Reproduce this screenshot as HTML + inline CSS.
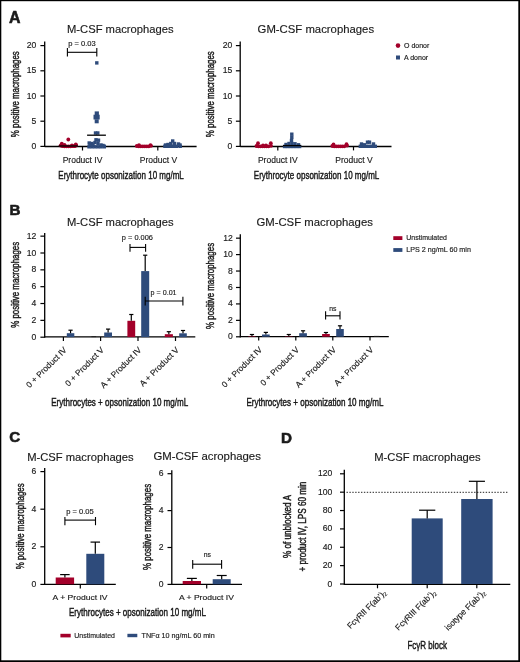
<!DOCTYPE html>
<html><head><meta charset="utf-8"><style>
html,body{margin:0;padding:0;background:#fff;}
svg{display:block;will-change:transform;}
text{font-family:"Liberation Sans", sans-serif;fill:#1a1a1a;stroke:#1a1a1a;stroke-width:0.15px;}
.cd{stroke-width:0.45px;}
.pl{stroke-width:0.6px;stroke-linejoin:round;}
</style></head><body>
<svg width="520" height="662" viewBox="0 0 520 662">
<rect width="520" height="662" fill="#fff"/>
<rect x="0" y="0" width="520" height="1.2" fill="#000"/>
<rect x="0" y="0" width="1.3" height="662" fill="#000"/>
<rect x="518.3" y="0" width="1.7" height="662" fill="#000"/>
<rect x="0" y="660.3" width="520" height="1.7" fill="#000"/>
<text x="9.1" y="22.7" font-size="15.9" font-weight="bold" class="pl">A</text>
<text x="9.5" y="215.2" font-size="15.2" font-weight="bold" class="pl">B</text>
<text x="9.3" y="442.3" font-size="15.2" font-weight="bold" class="pl">C</text>
<text x="281.1" y="442.8" font-size="15.2" font-weight="bold" class="pl">D</text>
<text x="67.0" y="32.5" font-size="11.5" textLength="106.5" lengthAdjust="spacingAndGlyphs">M-CSF macrophages</text>
<line x1="44.7" y1="41.5" x2="44.7" y2="147.0" stroke="#000" stroke-width="1.3"/>
<line x1="40.4" y1="146.4" x2="44.7" y2="146.4" stroke="#000" stroke-width="1.2"/>
<text x="36.4" y="148.95" font-size="8.6" text-anchor="end">0</text>
<line x1="40.4" y1="121.2" x2="44.7" y2="121.2" stroke="#000" stroke-width="1.2"/>
<text x="36.4" y="123.75" font-size="8.6" text-anchor="end">5</text>
<line x1="40.4" y1="96.0" x2="44.7" y2="96.0" stroke="#000" stroke-width="1.2"/>
<text x="36.4" y="98.55" font-size="8.6" text-anchor="end">10</text>
<line x1="40.4" y1="70.8" x2="44.7" y2="70.8" stroke="#000" stroke-width="1.2"/>
<text x="36.4" y="73.35" font-size="8.6" text-anchor="end">15</text>
<line x1="40.4" y1="45.6" x2="44.7" y2="45.6" stroke="#000" stroke-width="1.2"/>
<text x="36.4" y="48.15" font-size="8.6" text-anchor="end">20</text>
<text x="257.6" y="32.5" font-size="11.5" textLength="116.5" lengthAdjust="spacingAndGlyphs">GM-CSF macrophages</text>
<line x1="240.2" y1="41.5" x2="240.2" y2="147.0" stroke="#000" stroke-width="1.3"/>
<line x1="235.9" y1="146.4" x2="240.2" y2="146.4" stroke="#000" stroke-width="1.2"/>
<text x="232.2" y="148.95" font-size="8.6" text-anchor="end">0</text>
<line x1="235.9" y1="121.2" x2="240.2" y2="121.2" stroke="#000" stroke-width="1.2"/>
<text x="232.2" y="123.75" font-size="8.6" text-anchor="end">5</text>
<line x1="235.9" y1="96.0" x2="240.2" y2="96.0" stroke="#000" stroke-width="1.2"/>
<text x="232.2" y="98.55" font-size="8.6" text-anchor="end">10</text>
<line x1="235.9" y1="70.8" x2="240.2" y2="70.8" stroke="#000" stroke-width="1.2"/>
<text x="232.2" y="73.35" font-size="8.6" text-anchor="end">15</text>
<line x1="235.9" y1="45.6" x2="240.2" y2="45.6" stroke="#000" stroke-width="1.2"/>
<text x="232.2" y="48.15" font-size="8.6" text-anchor="end">20</text>
<line x1="44.7" y1="146.5" x2="196.6" y2="146.5" stroke="#000" stroke-width="1.3"/>
<line x1="82.5" y1="146.4" x2="82.5" y2="150.5" stroke="#000" stroke-width="1.2"/>
<line x1="157.8" y1="146.4" x2="157.8" y2="150.5" stroke="#000" stroke-width="1.2"/>
<text x="82.5" y="162.5" font-size="8.5" text-anchor="middle">Product IV</text>
<text x="158.4" y="162.5" font-size="8.5" text-anchor="middle">Product V</text>
<text x="58.3" y="178.6" font-size="11.5" textLength="125.5" lengthAdjust="spacingAndGlyphs" class="cd">Erythrocyte opsonization 10 mg/mL</text>
<text x="18.9" y="94.2" font-size="11.4" text-anchor="middle" textLength="86" lengthAdjust="spacingAndGlyphs" transform="rotate(-90 18.9 94.2)" class="cd">% positive macrophages</text>
<line x1="240.2" y1="146.5" x2="391.5" y2="146.5" stroke="#000" stroke-width="1.3"/>
<line x1="277.8" y1="146.3" x2="277.8" y2="150.4" stroke="#000" stroke-width="1.2"/>
<line x1="353.5" y1="146.3" x2="353.5" y2="150.4" stroke="#000" stroke-width="1.2"/>
<text x="277.8" y="162.5" font-size="8.5" text-anchor="middle">Product IV</text>
<text x="354.0" y="162.5" font-size="8.5" text-anchor="middle">Product V</text>
<text x="253.8" y="178.6" font-size="11.5" textLength="125.5" lengthAdjust="spacingAndGlyphs" class="cd">Erythrocyte opsonization 10 mg/mL</text>
<text x="214.4" y="94.2" font-size="11.4" text-anchor="middle" textLength="86" lengthAdjust="spacingAndGlyphs" transform="rotate(-90 214.4 94.2)" class="cd">% positive macrophages</text>
<circle cx="60.6" cy="145.6" r="1.9" fill="#a3002a"/>
<circle cx="62.6" cy="146.2" r="1.9" fill="#a3002a"/>
<circle cx="64.6" cy="146.3" r="1.9" fill="#a3002a"/>
<circle cx="66.6" cy="146.3" r="1.9" fill="#a3002a"/>
<circle cx="68.6" cy="146.3" r="1.9" fill="#a3002a"/>
<circle cx="70.6" cy="146.3" r="1.9" fill="#a3002a"/>
<circle cx="72.6" cy="146.2" r="1.9" fill="#a3002a"/>
<circle cx="74.6" cy="146.2" r="1.9" fill="#a3002a"/>
<circle cx="76.0" cy="145.5" r="1.9" fill="#a3002a"/>
<circle cx="61.8" cy="143.6" r="1.9" fill="#a3002a"/>
<circle cx="75.8" cy="144.3" r="1.9" fill="#a3002a"/>
<circle cx="64.5" cy="145.0" r="1.9" fill="#a3002a"/>
<circle cx="72" cy="145.3" r="1.9" fill="#a3002a"/>
<circle cx="68.3" cy="139.5" r="1.9" fill="#a3002a"/>
<line x1="58.8" y1="146.0" x2="77.8" y2="146.0" stroke="#000" stroke-width="1.3"/>
<rect x="95.10" y="61.20" width="3.4" height="3.4" fill="#2e4b7b"/>
<rect x="93.80" y="131.30" width="3.4" height="3.4" fill="#2e4b7b"/>
<rect x="96.10" y="131.30" width="3.4" height="3.4" fill="#2e4b7b"/>
<rect x="94.30" y="138.10" width="3.4" height="3.4" fill="#2e4b7b"/>
<rect x="96.80" y="138.50" width="3.4" height="3.4" fill="#2e4b7b"/>
<rect x="87.50" y="141.30" width="3.4" height="3.4" fill="#2e4b7b"/>
<rect x="90.30" y="141.80" width="3.4" height="3.4" fill="#2e4b7b"/>
<rect x="93.30" y="140.80" width="3.4" height="3.4" fill="#2e4b7b"/>
<rect x="96.30" y="141.80" width="3.4" height="3.4" fill="#2e4b7b"/>
<rect x="99.30" y="143.30" width="3.4" height="3.4" fill="#2e4b7b"/>
<rect x="102.50" y="144.50" width="3.4" height="3.4" fill="#2e4b7b"/>
<rect x="87.30" y="145.10" width="3.4" height="3.4" fill="#2e4b7b"/>
<rect x="90.30" y="145.10" width="3.4" height="3.4" fill="#2e4b7b"/>
<rect x="93.30" y="145.10" width="3.4" height="3.4" fill="#2e4b7b"/>
<rect x="96.30" y="145.10" width="3.4" height="3.4" fill="#2e4b7b"/>
<rect x="99.30" y="145.10" width="3.4" height="3.4" fill="#2e4b7b"/>
<rect x="102.60" y="145.10" width="3.4" height="3.4" fill="#2e4b7b"/>
<rect x="91.30" y="143.30" width="3.4" height="3.4" fill="#2e4b7b"/>
<rect x="88.30" y="143.30" width="3.4" height="3.4" fill="#2e4b7b"/>
<rect x="101.30" y="143.80" width="3.4" height="3.4" fill="#2e4b7b"/>
<line x1="87.1" y1="135.2" x2="105.9" y2="135.2" stroke="#000" stroke-width="1.3"/>
<rect x="94.7" y="111.4" width="4.2" height="3.6" fill="#2e4b7b"/>
<rect x="93.5" y="114.7" width="6.2" height="4.8" fill="#2e4b7b"/>
<rect x="94.7" y="119.3" width="4.0" height="4.0" fill="#2e4b7b"/>
<circle cx="136.8" cy="146.0" r="1.9" fill="#a3002a"/>
<circle cx="138.8" cy="146.3" r="1.9" fill="#a3002a"/>
<circle cx="140.8" cy="146.3" r="1.9" fill="#a3002a"/>
<circle cx="142.8" cy="146.3" r="1.9" fill="#a3002a"/>
<circle cx="144.8" cy="146.3" r="1.9" fill="#a3002a"/>
<circle cx="146.8" cy="146.3" r="1.9" fill="#a3002a"/>
<circle cx="148.8" cy="146.3" r="1.9" fill="#a3002a"/>
<circle cx="151.0" cy="145.8" r="1.9" fill="#a3002a"/>
<circle cx="139" cy="145.2" r="1.9" fill="#a3002a"/>
<circle cx="150.5" cy="145.2" r="1.9" fill="#a3002a"/>
<rect x="163.20" y="144.60" width="3.4" height="3.4" fill="#2e4b7b"/>
<rect x="165.80" y="144.60" width="3.4" height="3.4" fill="#2e4b7b"/>
<rect x="168.80" y="144.60" width="3.4" height="3.4" fill="#2e4b7b"/>
<rect x="171.80" y="144.60" width="3.4" height="3.4" fill="#2e4b7b"/>
<rect x="174.80" y="144.60" width="3.4" height="3.4" fill="#2e4b7b"/>
<rect x="178.50" y="144.60" width="3.4" height="3.4" fill="#2e4b7b"/>
<rect x="171.00" y="139.30" width="3.4" height="3.4" fill="#2e4b7b"/>
<rect x="169.10" y="141.80" width="3.4" height="3.4" fill="#2e4b7b"/>
<rect x="172.80" y="141.80" width="3.4" height="3.4" fill="#2e4b7b"/>
<rect x="166.30" y="142.80" width="3.4" height="3.4" fill="#2e4b7b"/>
<rect x="176.80" y="142.30" width="3.4" height="3.4" fill="#2e4b7b"/>
<rect x="163.80" y="143.30" width="3.4" height="3.4" fill="#2e4b7b"/>
<rect x="178.30" y="143.30" width="3.4" height="3.4" fill="#2e4b7b"/>
<circle cx="256.5" cy="146.0" r="1.9" fill="#a3002a"/>
<circle cx="258.5" cy="146.3" r="1.9" fill="#a3002a"/>
<circle cx="260.5" cy="146.3" r="1.9" fill="#a3002a"/>
<circle cx="262.5" cy="146.3" r="1.9" fill="#a3002a"/>
<circle cx="264.5" cy="146.3" r="1.9" fill="#a3002a"/>
<circle cx="266.5" cy="146.3" r="1.9" fill="#a3002a"/>
<circle cx="268.5" cy="146.3" r="1.9" fill="#a3002a"/>
<circle cx="271.0" cy="145.8" r="1.9" fill="#a3002a"/>
<circle cx="258.0" cy="143.2" r="1.9" fill="#a3002a"/>
<circle cx="270.8" cy="143.2" r="1.9" fill="#a3002a"/>
<circle cx="263" cy="145.3" r="1.9" fill="#a3002a"/>
<circle cx="266" cy="145.5" r="1.9" fill="#a3002a"/>
<rect x="282.90" y="144.80" width="3.4" height="3.4" fill="#2e4b7b"/>
<rect x="285.80" y="144.80" width="3.4" height="3.4" fill="#2e4b7b"/>
<rect x="288.80" y="144.80" width="3.4" height="3.4" fill="#2e4b7b"/>
<rect x="291.80" y="144.80" width="3.4" height="3.4" fill="#2e4b7b"/>
<rect x="294.80" y="144.80" width="3.4" height="3.4" fill="#2e4b7b"/>
<rect x="297.90" y="144.80" width="3.4" height="3.4" fill="#2e4b7b"/>
<rect x="290.10" y="132.50" width="3.4" height="3.4" fill="#2e4b7b"/>
<rect x="290.10" y="135.70" width="3.4" height="3.4" fill="#2e4b7b"/>
<rect x="289.80" y="138.80" width="3.4" height="3.4" fill="#2e4b7b"/>
<rect x="287.30" y="141.80" width="3.4" height="3.4" fill="#2e4b7b"/>
<rect x="290.30" y="141.90" width="3.4" height="3.4" fill="#2e4b7b"/>
<rect x="293.30" y="142.10" width="3.4" height="3.4" fill="#2e4b7b"/>
<rect x="284.30" y="142.80" width="3.4" height="3.4" fill="#2e4b7b"/>
<rect x="296.80" y="143.10" width="3.4" height="3.4" fill="#2e4b7b"/>
<line x1="283.0" y1="145.6" x2="301.2" y2="145.6" stroke="#000" stroke-width="1.3"/>
<circle cx="332.3" cy="146.0" r="1.9" fill="#a3002a"/>
<circle cx="334.3" cy="146.3" r="1.9" fill="#a3002a"/>
<circle cx="336.3" cy="146.3" r="1.9" fill="#a3002a"/>
<circle cx="338.3" cy="146.3" r="1.9" fill="#a3002a"/>
<circle cx="340.3" cy="146.3" r="1.9" fill="#a3002a"/>
<circle cx="342.3" cy="146.3" r="1.9" fill="#a3002a"/>
<circle cx="344.3" cy="146.3" r="1.9" fill="#a3002a"/>
<circle cx="347.0" cy="145.6" r="1.9" fill="#a3002a"/>
<circle cx="333.5" cy="144.5" r="1.9" fill="#a3002a"/>
<circle cx="346.5" cy="144.2" r="1.9" fill="#a3002a"/>
<rect x="358.60" y="144.60" width="3.4" height="3.4" fill="#2e4b7b"/>
<rect x="361.60" y="144.60" width="3.4" height="3.4" fill="#2e4b7b"/>
<rect x="364.60" y="144.60" width="3.4" height="3.4" fill="#2e4b7b"/>
<rect x="367.60" y="144.60" width="3.4" height="3.4" fill="#2e4b7b"/>
<rect x="370.60" y="144.60" width="3.4" height="3.4" fill="#2e4b7b"/>
<rect x="373.60" y="144.60" width="3.4" height="3.4" fill="#2e4b7b"/>
<rect x="359.80" y="142.30" width="3.4" height="3.4" fill="#2e4b7b"/>
<rect x="365.80" y="140.50" width="3.4" height="3.4" fill="#2e4b7b"/>
<rect x="367.80" y="140.50" width="3.4" height="3.4" fill="#2e4b7b"/>
<rect x="371.80" y="142.30" width="3.4" height="3.4" fill="#2e4b7b"/>
<rect x="362.80" y="143.10" width="3.4" height="3.4" fill="#2e4b7b"/>
<circle cx="398.0" cy="45.6" r="2.3" fill="#a3002a"/>
<rect x="396.00" y="55.50" width="4.0" height="4.0" fill="#2e4b7b"/>
<text x="404.0" y="47.8" font-size="7.0">O donor</text>
<text x="404.0" y="59.9" font-size="7.0">A donor</text>
<line x1="67.4" y1="52.3" x2="96.8" y2="52.3" stroke="#000" stroke-width="1.1"/>
<line x1="67.4" y1="48.0" x2="67.4" y2="56.6" stroke="#000" stroke-width="1.1"/>
<line x1="96.8" y1="48.0" x2="96.8" y2="56.6" stroke="#000" stroke-width="1.1"/>
<text x="82.0" y="45.8" font-size="7.2" text-anchor="middle" textLength="27.5" lengthAdjust="spacingAndGlyphs">p = 0.03</text>
<text x="67.0" y="225.5" font-size="11.5" textLength="106.5" lengthAdjust="spacingAndGlyphs">M-CSF macrophages</text>
<text x="256.4" y="225.9" font-size="11.5" textLength="116.5" lengthAdjust="spacingAndGlyphs">GM-CSF macrophages</text>
<line x1="44.7" y1="233.0" x2="44.7" y2="337.8" stroke="#000" stroke-width="1.3"/>
<line x1="40.4" y1="337.2" x2="44.7" y2="337.2" stroke="#000" stroke-width="1.2"/>
<text x="36.4" y="339.75" font-size="8.6" text-anchor="end">0</text>
<line x1="40.4" y1="320.36" x2="44.7" y2="320.36" stroke="#000" stroke-width="1.2"/>
<text x="36.4" y="322.91" font-size="8.6" text-anchor="end">2</text>
<line x1="40.4" y1="303.52" x2="44.7" y2="303.52" stroke="#000" stroke-width="1.2"/>
<text x="36.4" y="306.07" font-size="8.6" text-anchor="end">4</text>
<line x1="40.4" y1="286.68" x2="44.7" y2="286.68" stroke="#000" stroke-width="1.2"/>
<text x="36.4" y="289.23" font-size="8.6" text-anchor="end">6</text>
<line x1="40.4" y1="269.84" x2="44.7" y2="269.84" stroke="#000" stroke-width="1.2"/>
<text x="36.4" y="272.39" font-size="8.6" text-anchor="end">8</text>
<line x1="40.4" y1="253.0" x2="44.7" y2="253.0" stroke="#000" stroke-width="1.2"/>
<text x="36.4" y="255.55" font-size="8.6" text-anchor="end">10</text>
<line x1="40.4" y1="236.16" x2="44.7" y2="236.16" stroke="#000" stroke-width="1.2"/>
<text x="36.4" y="238.71" font-size="8.6" text-anchor="end">12</text>
<line x1="240.3" y1="234.3" x2="240.3" y2="337.4" stroke="#000" stroke-width="1.3"/>
<line x1="236.0" y1="336.8" x2="240.3" y2="336.8" stroke="#000" stroke-width="1.2"/>
<text x="232.8" y="339.35" font-size="8.6" text-anchor="end">0</text>
<line x1="236.0" y1="320.36" x2="240.3" y2="320.36" stroke="#000" stroke-width="1.2"/>
<text x="232.8" y="322.91" font-size="8.6" text-anchor="end">2</text>
<line x1="236.0" y1="303.92" x2="240.3" y2="303.92" stroke="#000" stroke-width="1.2"/>
<text x="232.8" y="306.47" font-size="8.6" text-anchor="end">4</text>
<line x1="236.0" y1="287.48" x2="240.3" y2="287.48" stroke="#000" stroke-width="1.2"/>
<text x="232.8" y="290.03" font-size="8.6" text-anchor="end">6</text>
<line x1="236.0" y1="271.04" x2="240.3" y2="271.04" stroke="#000" stroke-width="1.2"/>
<text x="232.8" y="273.59" font-size="8.6" text-anchor="end">8</text>
<line x1="236.0" y1="254.6" x2="240.3" y2="254.6" stroke="#000" stroke-width="1.2"/>
<text x="232.8" y="257.15" font-size="8.6" text-anchor="end">10</text>
<line x1="236.0" y1="238.16" x2="240.3" y2="238.16" stroke="#000" stroke-width="1.2"/>
<text x="232.8" y="240.71" font-size="8.6" text-anchor="end">12</text>
<text x="18.9" y="284.8" font-size="11.4" text-anchor="middle" textLength="86" lengthAdjust="spacingAndGlyphs" transform="rotate(-90 18.9 284.8)" class="cd">% positive macrophages</text>
<text x="214.4" y="285.9" font-size="11.4" text-anchor="middle" textLength="86" lengthAdjust="spacingAndGlyphs" transform="rotate(-90 214.4 285.9)" class="cd">% positive macrophages</text>
<line x1="44.7" y1="336.95" x2="195.3" y2="336.95" stroke="#000" stroke-width="1.3"/>
<line x1="240.3" y1="336.7" x2="388.8" y2="336.7" stroke="#000" stroke-width="1.3"/>
<line x1="63.4" y1="337.1" x2="63.4" y2="341.0" stroke="#000" stroke-width="1.2"/>
<text x="67.3" y="350.6" font-size="8.4" text-anchor="end" transform="rotate(-45 67.3 350.6)">0 + Product IV</text>
<line x1="100.6" y1="337.1" x2="100.6" y2="341.0" stroke="#000" stroke-width="1.2"/>
<text x="104.5" y="350.6" font-size="8.4" text-anchor="end" transform="rotate(-45 104.5 350.6)">0 + Product V</text>
<line x1="138.0" y1="337.1" x2="138.0" y2="341.0" stroke="#000" stroke-width="1.2"/>
<text x="141.9" y="350.6" font-size="8.4" text-anchor="end" transform="rotate(-45 141.9 350.6)">A + Product IV</text>
<line x1="175.5" y1="337.1" x2="175.5" y2="341.0" stroke="#000" stroke-width="1.2"/>
<text x="179.4" y="350.6" font-size="8.4" text-anchor="end" transform="rotate(-45 179.4 350.6)">A + Product V</text>
<line x1="258.7" y1="336.7" x2="258.7" y2="340.6" stroke="#000" stroke-width="1.2"/>
<text x="262.6" y="350.2" font-size="8.4" text-anchor="end" transform="rotate(-45 262.6 350.2)">0 + Product IV</text>
<line x1="295.8" y1="336.7" x2="295.8" y2="340.6" stroke="#000" stroke-width="1.2"/>
<text x="299.7" y="350.2" font-size="8.4" text-anchor="end" transform="rotate(-45 299.7 350.2)">0 + Product V</text>
<line x1="332.8" y1="336.7" x2="332.8" y2="340.6" stroke="#000" stroke-width="1.2"/>
<text x="336.7" y="350.2" font-size="8.4" text-anchor="end" transform="rotate(-45 336.7 350.2)">A + Product IV</text>
<line x1="370.0" y1="336.7" x2="370.0" y2="340.6" stroke="#000" stroke-width="1.2"/>
<text x="373.9" y="350.2" font-size="8.4" text-anchor="end" transform="rotate(-45 373.9 350.2)">A + Product V</text>
<rect x="66.8" y="333.2" width="7.5" height="3.9" fill="#2e4b7b"/>
<line x1="70.55" y1="330.2" x2="70.55" y2="333.2" stroke="#000" stroke-width="1.2"/>
<line x1="68.45" y1="330.2" x2="72.65" y2="330.2" stroke="#000" stroke-width="1.2"/>
<rect x="91.4" y="336.1" width="4.7" height="1.0" fill="#222"/>
<rect x="104.2" y="332.5" width="7.8" height="4.6" fill="#2e4b7b"/>
<line x1="108.1" y1="329.1" x2="108.1" y2="332.5" stroke="#000" stroke-width="1.2"/>
<line x1="106.0" y1="329.1" x2="110.2" y2="329.1" stroke="#000" stroke-width="1.2"/>
<rect x="127.4" y="320.8" width="7.8" height="16.3" fill="#a3002a"/>
<line x1="131.3" y1="314.5" x2="131.3" y2="320.8" stroke="#000" stroke-width="1.2"/>
<line x1="129.2" y1="314.5" x2="133.4" y2="314.5" stroke="#000" stroke-width="1.2"/>
<rect x="141.2" y="271.1" width="8.0" height="66.0" fill="#2e4b7b"/>
<line x1="145.2" y1="255.2" x2="145.2" y2="271.1" stroke="#000" stroke-width="1.2"/>
<line x1="143.1" y1="255.2" x2="147.3" y2="255.2" stroke="#000" stroke-width="1.2"/>
<rect x="164.8" y="334.2" width="8.1" height="2.9" fill="#a3002a"/>
<line x1="168.85" y1="331.7" x2="168.85" y2="334.2" stroke="#000" stroke-width="1.2"/>
<line x1="166.75" y1="331.7" x2="170.95" y2="331.7" stroke="#000" stroke-width="1.2"/>
<rect x="179.2" y="333.3" width="7.6" height="3.8" fill="#2e4b7b"/>
<line x1="183.0" y1="330.5" x2="183.0" y2="333.3" stroke="#000" stroke-width="1.2"/>
<line x1="180.9" y1="330.5" x2="185.1" y2="330.5" stroke="#000" stroke-width="1.2"/>
<line x1="130.0" y1="247.4" x2="145.6" y2="247.4" stroke="#000" stroke-width="1.1"/>
<line x1="130.0" y1="243.9" x2="130.0" y2="251.7" stroke="#000" stroke-width="1.1"/>
<line x1="145.6" y1="243.9" x2="145.6" y2="251.7" stroke="#000" stroke-width="1.1"/>
<text x="137.4" y="239.6" font-size="7.2" text-anchor="middle" textLength="31.2" lengthAdjust="spacingAndGlyphs">p = 0.006</text>
<line x1="145.2" y1="301.0" x2="182.9" y2="301.0" stroke="#000" stroke-width="1.1"/>
<line x1="145.2" y1="296.7" x2="145.2" y2="305.4" stroke="#000" stroke-width="1.1"/>
<line x1="182.9" y1="296.7" x2="182.9" y2="305.4" stroke="#000" stroke-width="1.1"/>
<text x="163.6" y="294.9" font-size="7.2" text-anchor="middle" textLength="26.0" lengthAdjust="spacingAndGlyphs">p = 0.01</text>
<text x="51.2" y="405.6" font-size="11.2" textLength="137" lengthAdjust="spacingAndGlyphs" class="cd">Erythrocytes + opsonization 10 mg/mL</text>
<rect x="248.4" y="336.2" width="7.1" height="0.5" fill="#a3002a"/>
<line x1="251.95" y1="334.5" x2="251.95" y2="336.2" stroke="#000" stroke-width="1.2"/>
<line x1="249.85" y1="334.5" x2="254.05" y2="334.5" stroke="#000" stroke-width="1.2"/>
<rect x="262.0" y="334.5" width="7.7" height="2.2" fill="#2e4b7b"/>
<line x1="265.85" y1="332.4" x2="265.85" y2="334.5" stroke="#000" stroke-width="1.2"/>
<line x1="263.75" y1="332.4" x2="267.95" y2="332.4" stroke="#000" stroke-width="1.2"/>
<rect x="285.0" y="336.3" width="7.6" height="0.4" fill="#a3002a"/>
<line x1="288.8" y1="334.5" x2="288.8" y2="336.3" stroke="#000" stroke-width="1.2"/>
<line x1="286.7" y1="334.5" x2="290.9" y2="334.5" stroke="#000" stroke-width="1.2"/>
<rect x="299.2" y="333.2" width="7.7" height="3.5" fill="#2e4b7b"/>
<line x1="303.05" y1="330.8" x2="303.05" y2="333.2" stroke="#000" stroke-width="1.2"/>
<line x1="300.95" y1="330.8" x2="305.15" y2="330.8" stroke="#000" stroke-width="1.2"/>
<rect x="322.1" y="334.0" width="7.7" height="2.7" fill="#a3002a"/>
<line x1="325.95" y1="332.5" x2="325.95" y2="334.0" stroke="#000" stroke-width="1.2"/>
<line x1="323.85" y1="332.5" x2="328.05" y2="332.5" stroke="#000" stroke-width="1.2"/>
<rect x="336.2" y="329.0" width="7.6" height="7.7" fill="#2e4b7b"/>
<line x1="340.0" y1="325.8" x2="340.0" y2="329.0" stroke="#000" stroke-width="1.2"/>
<line x1="337.9" y1="325.8" x2="342.1" y2="325.8" stroke="#000" stroke-width="1.2"/>
<rect x="374.0" y="335.9" width="5.5" height="0.8" fill="#222"/>
<line x1="325.6" y1="315.8" x2="340.0" y2="315.8" stroke="#000" stroke-width="1.1"/>
<line x1="325.6" y1="311.3" x2="325.6" y2="319.6" stroke="#000" stroke-width="1.1"/>
<line x1="340.0" y1="311.3" x2="340.0" y2="319.6" stroke="#000" stroke-width="1.1"/>
<text x="332.8" y="310.6" font-size="6.8" text-anchor="middle">ns</text>
<text x="246.4" y="405.6" font-size="11.2" textLength="137" lengthAdjust="spacingAndGlyphs" class="cd">Erythrocytes + opsonization 10 mg/mL</text>
<rect x="393.3" y="236.2" width="9.1" height="3.8" fill="#a3002a"/>
<rect x="393.3" y="248.1" width="9.1" height="3.8" fill="#2e4b7b"/>
<text x="406.3" y="240.1" font-size="7.0" textLength="40.6" lengthAdjust="spacingAndGlyphs">Unstimulated</text>
<text x="406.3" y="251.9" font-size="7.0" textLength="64.6" lengthAdjust="spacingAndGlyphs">LPS 2 ng/mL 60 min</text>
<text x="27.2" y="460.7" font-size="11.5" textLength="106.5" lengthAdjust="spacingAndGlyphs">M-CSF macrophages</text>
<text x="153.4" y="460.3" font-size="11.5" textLength="107.5" lengthAdjust="spacingAndGlyphs">GM-CSF acrophages</text>
<line x1="44.7" y1="468.1" x2="44.7" y2="584.9" stroke="#000" stroke-width="1.3"/>
<line x1="40.4" y1="584.4" x2="44.7" y2="584.4" stroke="#000" stroke-width="1.2"/>
<text x="36.4" y="586.95" font-size="8.6" text-anchor="end">0</text>
<line x1="40.4" y1="546.8" x2="44.7" y2="546.8" stroke="#000" stroke-width="1.2"/>
<text x="36.4" y="549.35" font-size="8.6" text-anchor="end">2</text>
<line x1="40.4" y1="509.2" x2="44.7" y2="509.2" stroke="#000" stroke-width="1.2"/>
<text x="36.4" y="511.75" font-size="8.6" text-anchor="end">4</text>
<line x1="40.4" y1="471.6" x2="44.7" y2="471.6" stroke="#000" stroke-width="1.2"/>
<text x="36.4" y="474.15" font-size="8.6" text-anchor="end">6</text>
<line x1="171.8" y1="470.2" x2="171.8" y2="584.9" stroke="#000" stroke-width="1.3"/>
<line x1="167.5" y1="584.4" x2="171.8" y2="584.4" stroke="#000" stroke-width="1.2"/>
<text x="163.6" y="586.95" font-size="8.6" text-anchor="end">0</text>
<line x1="167.5" y1="547.5" x2="171.8" y2="547.5" stroke="#000" stroke-width="1.2"/>
<text x="163.6" y="550.05" font-size="8.6" text-anchor="end">2</text>
<line x1="167.5" y1="510.6" x2="171.8" y2="510.6" stroke="#000" stroke-width="1.2"/>
<text x="163.6" y="513.15" font-size="8.6" text-anchor="end">4</text>
<line x1="167.5" y1="473.7" x2="171.8" y2="473.7" stroke="#000" stroke-width="1.2"/>
<text x="163.6" y="476.25" font-size="8.6" text-anchor="end">6</text>
<text x="23.9" y="526.3" font-size="11.4" text-anchor="middle" textLength="86" lengthAdjust="spacingAndGlyphs" transform="rotate(-90 23.9 526.3)" class="cd">% positive macrophages</text>
<text x="150.6" y="526.9" font-size="11.4" text-anchor="middle" textLength="86" lengthAdjust="spacingAndGlyphs" transform="rotate(-90 150.6 526.9)" class="cd">% positive macrophages</text>
<line x1="44.7" y1="584.3" x2="115.8" y2="584.3" stroke="#000" stroke-width="1.3"/>
<line x1="171.8" y1="584.3" x2="242.0" y2="584.3" stroke="#000" stroke-width="1.3"/>
<line x1="80.3" y1="584.3" x2="80.3" y2="588.5" stroke="#000" stroke-width="1.2"/>
<line x1="206.7" y1="584.3" x2="206.7" y2="588.5" stroke="#000" stroke-width="1.2"/>
<rect x="55.7" y="577.5" width="18.4" height="6.8" fill="#a3002a"/>
<line x1="64.9" y1="574.6" x2="64.9" y2="577.5" stroke="#000" stroke-width="1.2"/>
<line x1="60.15" y1="574.6" x2="69.65" y2="574.6" stroke="#000" stroke-width="1.2"/>
<rect x="86.3" y="553.8" width="18.0" height="30.5" fill="#2e4b7b"/>
<line x1="95.3" y1="542.1" x2="95.3" y2="553.8" stroke="#000" stroke-width="1.2"/>
<line x1="90.55" y1="542.1" x2="100.05" y2="542.1" stroke="#000" stroke-width="1.2"/>
<rect x="182.7" y="581.0" width="18.3" height="3.3" fill="#a3002a"/>
<line x1="191.85" y1="578.4" x2="191.85" y2="581.0" stroke="#000" stroke-width="1.2"/>
<line x1="186.85" y1="578.4" x2="196.85" y2="578.4" stroke="#000" stroke-width="1.2"/>
<rect x="212.7" y="579.2" width="18.0" height="5.1" fill="#2e4b7b"/>
<line x1="221.7" y1="575.5" x2="221.7" y2="579.2" stroke="#000" stroke-width="1.2"/>
<line x1="216.7" y1="575.5" x2="226.7" y2="575.5" stroke="#000" stroke-width="1.2"/>
<line x1="64.9" y1="520.1" x2="95.5" y2="520.1" stroke="#000" stroke-width="1.1"/>
<line x1="64.9" y1="517.0" x2="64.9" y2="525.2" stroke="#000" stroke-width="1.1"/>
<line x1="95.5" y1="517.0" x2="95.5" y2="525.2" stroke="#000" stroke-width="1.1"/>
<text x="80.0" y="514.1" font-size="7.2" text-anchor="middle" textLength="27.5" lengthAdjust="spacingAndGlyphs">p = 0.05</text>
<line x1="192.7" y1="564.2" x2="221.6" y2="564.2" stroke="#000" stroke-width="1.1"/>
<line x1="192.7" y1="559.9" x2="192.7" y2="568.8" stroke="#000" stroke-width="1.1"/>
<line x1="221.6" y1="559.9" x2="221.6" y2="568.8" stroke="#000" stroke-width="1.1"/>
<text x="207.3" y="557.1" font-size="6.8" text-anchor="middle">ns</text>
<text x="80.1" y="600.0" font-size="8.0" text-anchor="middle" textLength="55" lengthAdjust="spacingAndGlyphs">A + Product IV</text>
<text x="206.4" y="600.0" font-size="8.0" text-anchor="middle" textLength="55" lengthAdjust="spacingAndGlyphs">A + Product IV</text>
<text x="69.0" y="616.1" font-size="11.2" textLength="137" lengthAdjust="spacingAndGlyphs" class="cd">Erythrocytes + opsonization 10 mg/mL</text>
<rect x="60.4" y="633.8" width="10.3" height="3.6" fill="#a3002a"/>
<rect x="127.4" y="633.8" width="9.9" height="3.4" fill="#2e4b7b"/>
<text x="74.3" y="637.7" font-size="7.0" textLength="40.6" lengthAdjust="spacingAndGlyphs">Unstimulated</text>
<text x="141.5" y="637.7" font-size="7.0" textLength="73.2" lengthAdjust="spacingAndGlyphs">TNF&#945; 10 ng/mL 60 min</text>
<text x="374.2" y="461.2" font-size="11.5" textLength="106.5" lengthAdjust="spacingAndGlyphs">M-CSF macrophages</text>
<line x1="344.3" y1="469.7" x2="344.3" y2="585.0" stroke="#000" stroke-width="1.3"/>
<line x1="340.0" y1="584.0" x2="344.3" y2="584.0" stroke="#000" stroke-width="1.2"/>
<text x="332.3" y="586.55" font-size="8.6" text-anchor="end">0</text>
<line x1="340.0" y1="565.63" x2="344.3" y2="565.63" stroke="#000" stroke-width="1.2"/>
<text x="332.3" y="568.18" font-size="8.6" text-anchor="end">20</text>
<line x1="340.0" y1="547.27" x2="344.3" y2="547.27" stroke="#000" stroke-width="1.2"/>
<text x="332.3" y="549.82" font-size="8.6" text-anchor="end">40</text>
<line x1="340.0" y1="528.9" x2="344.3" y2="528.9" stroke="#000" stroke-width="1.2"/>
<text x="332.3" y="531.45" font-size="8.6" text-anchor="end">60</text>
<line x1="340.0" y1="510.54" x2="344.3" y2="510.54" stroke="#000" stroke-width="1.2"/>
<text x="332.3" y="513.09" font-size="8.6" text-anchor="end">80</text>
<line x1="340.0" y1="492.17" x2="344.3" y2="492.17" stroke="#000" stroke-width="1.2"/>
<text x="332.3" y="494.72" font-size="8.6" text-anchor="end">100</text>
<line x1="340.0" y1="473.8" x2="344.3" y2="473.8" stroke="#000" stroke-width="1.2"/>
<text x="332.3" y="476.35" font-size="8.6" text-anchor="end">120</text>
<line x1="344.3" y1="584.4" x2="510.3" y2="584.4" stroke="#000" stroke-width="1.3"/>
<line x1="377.5" y1="584.0" x2="377.5" y2="588.3" stroke="#000" stroke-width="1.2"/>
<line x1="427.2" y1="584.0" x2="427.2" y2="588.3" stroke="#000" stroke-width="1.2"/>
<line x1="476.8" y1="584.0" x2="476.8" y2="588.3" stroke="#000" stroke-width="1.2"/>
<line x1="346.5" y1="492.3" x2="507.5" y2="492.3" stroke="#222" stroke-width="1.0" stroke-dasharray="1.4 1.5"/>
<rect x="411.7" y="518.4" width="31.0" height="65.6" fill="#2e4b7b"/>
<line x1="427.2" y1="510.2" x2="427.2" y2="518.4" stroke="#000" stroke-width="1.2"/>
<line x1="419.1" y1="510.2" x2="435.3" y2="510.2" stroke="#000" stroke-width="1.2"/>
<rect x="461.2" y="499.0" width="31.4" height="85.0" fill="#2e4b7b"/>
<line x1="476.9" y1="481.3" x2="476.9" y2="499.0" stroke="#000" stroke-width="1.2"/>
<line x1="468.85" y1="481.3" x2="484.95" y2="481.3" stroke="#000" stroke-width="1.2"/>
<text x="427.2" y="649.2" font-size="11.2" text-anchor="middle" textLength="39.5" lengthAdjust="spacingAndGlyphs" class="cd">Fc&#947;R block</text>
<text x="291.4" y="526.6" font-size="11.0" text-anchor="middle" textLength="63" lengthAdjust="spacingAndGlyphs" transform="rotate(-90 291.4 526.6)" class="cd">% of unblocked A</text>
<text x="305.7" y="526.6" font-size="11.0" text-anchor="middle" textLength="90" lengthAdjust="spacingAndGlyphs" transform="rotate(-90 305.7 526.6)" class="cd">+ product IV, LPS 60 min</text>
<text x="386.6" y="593.2" font-size="8.3" text-anchor="end" transform="rotate(-45 386.6 593.2)">Fc&#947;RII F(ab&#8217;)<tspan font-size="5.5" dy="1.5">2</tspan></text>
<text x="436.3" y="593.2" font-size="8.3" text-anchor="end" transform="rotate(-45 436.3 593.2)">Fc&#947;RIII F(ab&#8217;)<tspan font-size="5.5" dy="1.5">2</tspan></text>
<text x="485.9" y="593.2" font-size="8.3" text-anchor="end" transform="rotate(-45 485.9 593.2)">isotype F(ab&#8217;)<tspan font-size="5.5" dy="1.5">2</tspan></text>
</svg></body></html>
